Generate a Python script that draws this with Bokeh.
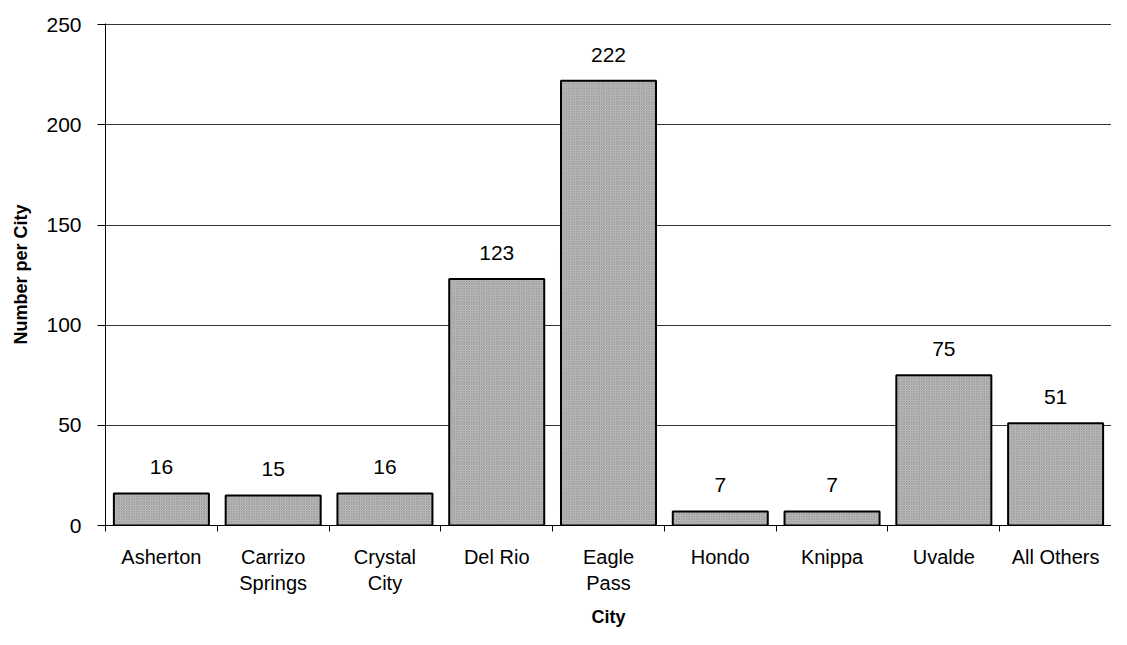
from bokeh.plotting import figure
from bokeh.models import Range1d, FixedTicker, ColumnDataSource
from bokeh.core.properties import value
from bokeh.embed import file_html
from bokeh.resources import INLINE

cities = ["Asherton", "Carrizo\nSprings", "Crystal\nCity", "Del Rio", "Eagle\nPass",
          "Hondo", "Knippa", "Uvalde", "All Others"]
counts = [16, 15, 16, 123, 222, 7, 7, 75, 51]
y_ticks = [0, 50, 100, 150, 200, 250]

FONT = "Liberation Sans"
n = len(cities)
xs = [i + 0.5 for i in range(n)]
src = ColumnDataSource(dict(x=xs, top=counts, lab=[str(c) for c in counts]))

p = figure(width=1111, height=629, output_backend="svg", toolbar_location=None,
           x_range=Range1d(0, n), y_range=Range1d(0, 250.6),
           min_border_left=105, min_border_right=0, min_border_top=23, min_border_bottom=100)
p.outline_line_color = None
p.background_fill_color = "white"

p.vbar(x="x", top="top", width=0.85, source=src, fill_color="#d2d2d2",
       hatch_pattern="x", hatch_scale=2.5, hatch_color="#9a9a9a", hatch_weight=1,
       line_color="black", line_width=2)
p.text(x="x", y="top", text="lab", source=src, text_align="center", text_baseline="bottom",
       y_offset=-19, text_font=value(FONT), text_font_size="21px", text_color="black")

# x axis
xa = p.xaxis[0]
xa.ticker = FixedTicker(ticks=xs, minor_ticks=list(range(n + 1)))
xa.major_label_overrides = {x: c for x, c in zip(xs, cities)}
xa.major_tick_line_color = None
xa.minor_tick_line_color = "black"
xa.minor_tick_out = 6
xa.minor_tick_in = 0
xa.axis_line_color = "black"
xa.major_label_standoff = 14
xa.major_label_text_font = FONT
xa.major_label_text_font_size = "20px"
xa.major_label_text_color = "black"
xa.axis_label = "City"
xa.axis_label_text_font = FONT
xa.axis_label_text_font_style = "bold"
xa.axis_label_text_font_size = "18px"
xa.axis_label_text_color = "black"
xa.axis_label_standoff = 10

# y axis
ya = p.yaxis[0]
ya.ticker = FixedTicker(ticks=y_ticks)
ya.minor_tick_line_color = None
ya.major_tick_out = 8
ya.major_tick_in = 0
ya.axis_line_color = "black"
ya.major_tick_line_color = "black"
ya.major_label_standoff = 16
ya.major_label_text_font = FONT
ya.major_label_text_font_size = "21px"
ya.major_label_text_color = "black"
ya.axis_label = "Number per City"
ya.axis_label_text_font = FONT
ya.axis_label_text_font_style = "bold"
ya.axis_label_text_font_size = "18px"
ya.axis_label_text_color = "black"
ya.axis_label_standoff = 12

p.xgrid.grid_line_color = None
p.ygrid.ticker = FixedTicker(ticks=y_ticks)
p.ygrid.grid_line_color = "#333333"
p.ygrid.grid_line_width = 1

open("out.html", "w").write(file_html(p, INLINE))
